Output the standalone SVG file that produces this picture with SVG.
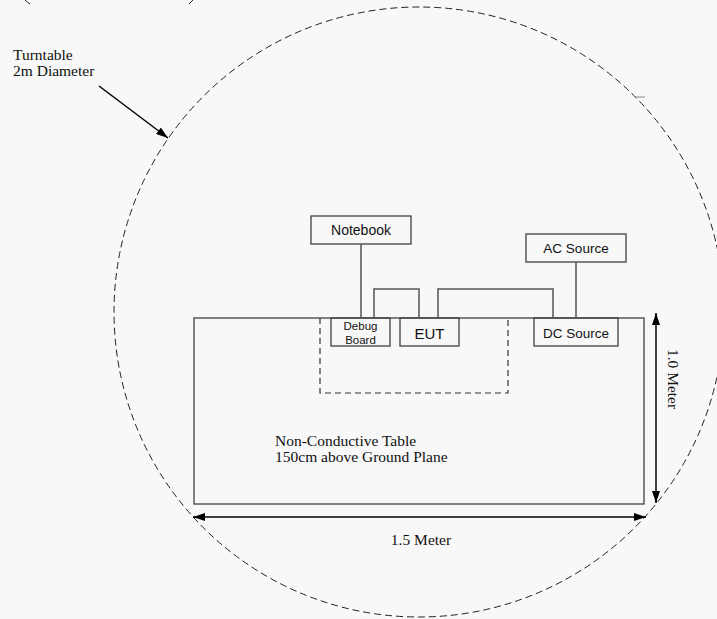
<svg xmlns="http://www.w3.org/2000/svg" width="717" height="619" viewBox="0 0 717 619">
<style>
.box{fill:none;stroke:#404040;stroke-width:1.3}
.wire{fill:none;stroke:#555;stroke-width:1.5}
.dash{fill:none;stroke:#222;stroke-width:1;stroke-dasharray:7 4}
.dash2{fill:none;stroke:#333;stroke-width:1.2;stroke-dasharray:6 4}
.serif{font-family:"Liberation Serif","Times New Roman",serif;font-size:15.5px;fill:#111}
.sans{font-family:"Liberation Sans",Arial,sans-serif;fill:#111;text-anchor:middle}
.dim{stroke:#000;stroke-width:1.5;fill:none}
</style>
<defs>
<marker id="ah" viewBox="0 0 12 8" refX="12" refY="4" markerWidth="12" markerHeight="8" markerUnits="userSpaceOnUse" orient="auto-start-reverse">
<path d="M0,0 L12,4 L0,8 Z" fill="#000"/>
</marker>
</defs>
<rect width="717" height="619" fill="#f8f8f8"/>
<g id="turntable">
<circle cx="419" cy="312" r="305" class="dash"/>
<path d="M25,0 Q27,2 30,4 M193,0 Q191,2 189,4" fill="none" stroke="#222" stroke-width="1"/>
<line x1="635" y1="97" x2="645" y2="97" stroke="#888" stroke-width="1"/>
<text class="serif" x="13" y="60" font-size="13.5">Turntable</text>
<text class="serif" x="13" y="75.5" font-size="13.5">2m Diameter</text>
</g>
<g id="table">
<rect x="194" y="318" width="450" height="186" class="box"/>
<text class="serif" x="275" y="446">Non-Conductive Table</text>
<text class="serif" x="275" y="461.5">150cm above Ground Plane</text>
</g>
<g id="dashed-area">
<path d="M320,318 V393 H508 V318" class="dash2"/>
</g>
<g id="notebook">
<rect x="311" y="216" width="100" height="28" class="box"/>
<text class="sans" x="361" y="235" font-size="14">Notebook</text>
</g>
<g id="debug-board">
<rect x="331" y="318" width="59" height="28" fill="#f8f8f8" class="box"/>
<text class="sans" x="360.5" y="330" font-size="11.5">Debug</text>
<text class="sans" x="360.5" y="344" font-size="11.5">Board</text>
</g>
<g id="eut">
<rect x="400" y="318" width="59" height="28" fill="#f8f8f8" class="box"/>
<text class="sans" x="429.5" y="339" font-size="15">EUT</text>
</g>
<g id="dc-source">
<rect x="534" y="318" width="84" height="28" fill="#f8f8f8" class="box"/>
<text class="sans" x="576" y="338" font-size="13.5">DC Source</text>
</g>
<g id="ac-source">
<rect x="526" y="234" width="100" height="28" class="box"/>
<text class="sans" x="576" y="253" font-size="13.5">AC Source</text>
</g>
<g id="connectors">
<line x1="361" y1="244" x2="361" y2="318" class="wire"/>
<path d="M374,318 V289 H419 V318" class="wire"/>
<path d="M438,318 V289 H553 V318" class="wire"/>
<line x1="576" y1="262" x2="576" y2="318" class="wire"/>
<line x1="99" y1="86" x2="168" y2="138" stroke="#000" stroke-width="1.5" marker-end="url(#ah)"/>
</g>
<g id="dimensions">
<line x1="193" y1="517" x2="646" y2="517" class="dim" marker-start="url(#ah)" marker-end="url(#ah)"/>
<text class="serif" x="421" y="545" text-anchor="middle">1.5 Meter</text>
<line x1="656" y1="313" x2="656" y2="503" class="dim" marker-start="url(#ah)" marker-end="url(#ah)"/>
<text class="serif" transform="translate(668,379) rotate(90)" text-anchor="middle">1.0 Meter</text>
</g>
</svg>
